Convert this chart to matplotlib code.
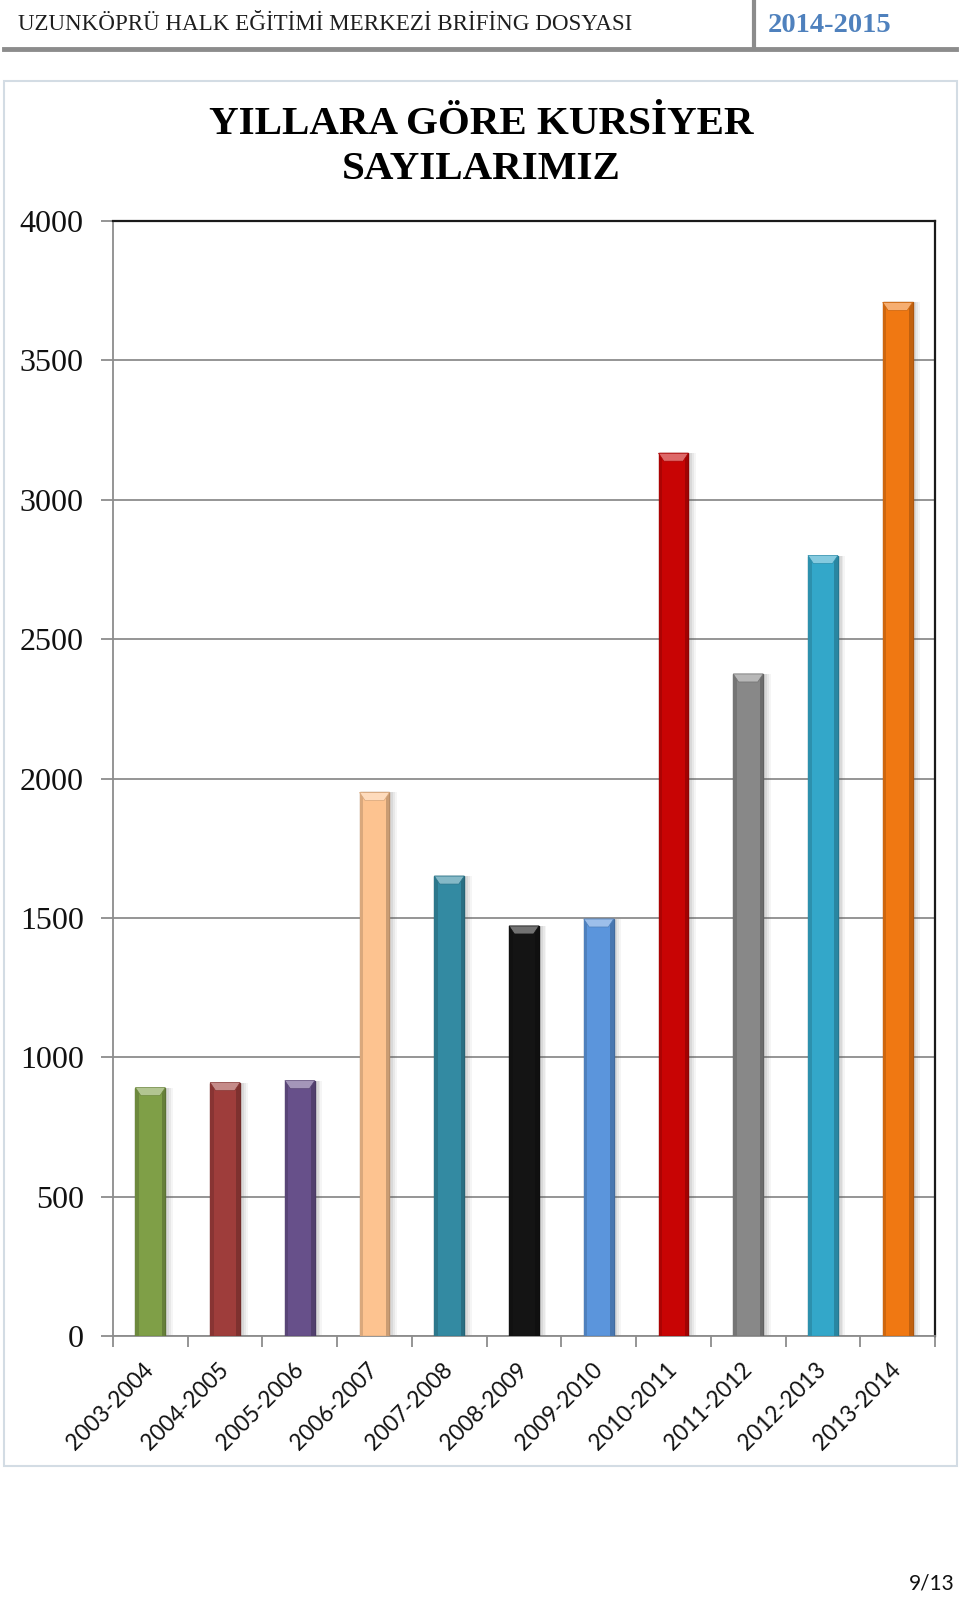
import matplotlib
matplotlib.use("Agg")
import matplotlib.pyplot as plt
import matplotlib.patches as mpatches
from matplotlib.colors import to_rgb
import numpy as np

# ---- data ----
categories = ["2003-2004", "2004-2005", "2005-2006", "2006-2007", "2007-2008",
              "2008-2009", "2009-2010", "2010-2011", "2011-2012", "2012-2013",
              "2013-2014"]
values = [891, 909, 916, 1950, 1650, 1471, 1496, 3167, 2375, 2800, 3708]
bar_colors = ["#7F9F47", "#9E3D3B", "#67508A", "#FDC390", "#338AA2", "#141414",
              "#5B95DC", "#C80404", "#888888", "#33A7C9", "#F07812"]
y_ticks = [0, 500, 1000, 1500, 2000, 2500, 3000, 3500, 4000]
title = "YILLARA GÖRE KURSİYER\nSAYILARIMIZ"
header_left = "UZUNKÖPRÜ HALK EĞİTİMİ MERKEZİ BRİFİNG DOSYASI"
header_right = "2014-2015"
page_no = "9/13"

W, H = 960, 1604
fig = plt.figure(figsize=(W / 100, H / 100), dpi=100)
fig.patch.set_facecolor("white")

def fx(px):
    return px / W

def fy(py):
    return 1 - py / H

# ---- page header ----
fig.text(fx(18), fy(25), header_left, fontsize=16.6, family="Liberation Serif",
         color="#1e1e1e", ha="left", va="center")
fig.text(fx(768), fy(25), header_right, fontsize=20.5, family="Liberation Serif",
         weight="bold", color="#4F81BD", ha="left", va="center")
fig.add_artist(plt.Line2D([fx(754), fx(754)], [fy(2), fy(46)], color="#8C8C8C",
                          lw=3, transform=fig.transFigure))
fig.add_artist(plt.Line2D([fx(4), fx(956)], [fy(48.5), fy(48.5)], color="#8C8C8C",
                          lw=3.5, transform=fig.transFigure))

# ---- chart frame ----
fig.add_artist(mpatches.Rectangle((fx(4), fy(1466)), fx(953), (1466 - 81) / H,
                                  transform=fig.transFigure, facecolor="none",
                                  edgecolor="#D3DCE4", lw=1.5))

fig.text(fx(481), fy(147), title, fontsize=29.5, family="Liberation Serif",
         weight="bold", ha="center", va="center", linespacing=1.3)

fig.text(fx(955), fy(1583), page_no, fontsize=15, family="Lato",
         color="#111111", ha="right", va="center")

# ---- axes ----
ax = fig.add_axes([fx(113), fy(1336), (935 - 113) / W, (1336 - 221) / H])
x = np.arange(len(categories))
bw = 0.40

ax.set_xlim(-0.5, len(categories) - 0.5)
ax.set_ylim(0, 4000)

# shadows
for dx, a in [(0.10, 0.06), (0.075, 0.08), (0.05, 0.10)]:
    ax.bar(x + dx, values, width=bw, color="#555555", alpha=a, zorder=2,
           linewidth=0)

def darker(c, f=0.72):
    r, g, b = to_rgb(c)
    return (r * f, g * f, b * f)

def lighter(c, f=0.45):
    r, g, b = to_rgb(c)
    return (r + (1 - r) * f, g + (1 - g) * f, b + (1 - b) * f)

ax.bar(x, values, width=bw, color=bar_colors,
       edgecolor=[darker(c) for c in bar_colors], linewidth=1.0, zorder=3)

# side shading & bevel top
px_per_unit_y = (1336 - 221) / 4000.0
bevel = 8 / px_per_unit_y
inset = bw * 0.18
for xi, v, c in zip(x, values, bar_colors):
    ax.add_patch(mpatches.Rectangle((xi - bw / 2, 0), bw * 0.12, v,
                                    facecolor=darker(c, 0.86), lw=0, zorder=3.5))
    ax.add_patch(mpatches.Rectangle((xi + bw / 2 - bw * 0.12, 0), bw * 0.12, v,
                                    facecolor=darker(c, 0.80), lw=0, zorder=3.5))
    poly = [(xi - bw / 2, v), (xi + bw / 2, v),
            (xi + bw / 2 - inset, v - bevel), (xi - bw / 2 + inset, v - bevel)]
    ax.add_patch(mpatches.Polygon(poly, closed=True, facecolor=lighter(c, 0.4),
                                  edgecolor=darker(c, 0.85), lw=0.5, zorder=4))

# grid
ax.set_yticks(y_ticks)
ax.yaxis.grid(True, color="#8C8C8C", lw=1.3, zorder=1)
ax.set_axisbelow(True)
ax.set_yticklabels([str(t) for t in y_ticks], family="Liberation Serif",
                   fontsize=23, color="#111111")
ax.tick_params(axis="y", length=9, width=1.3, color="#8C8C8C", pad=12)

ax.set_xticks(x)
ax.set_xticklabels(categories, rotation=45, rotation_mode="anchor", ha="right",
                   va="center", family="Lato", fontsize=16.3, color="#111111")
ax.tick_params(axis="x", which="major", length=0, pad=22)
ax.set_xticks(np.arange(len(categories) + 1) - 0.5, minor=True)
ax.tick_params(axis="x", which="minor", length=8, width=1.3, color="#8C8C8C",
               direction="out")

for s in ["left", "bottom"]:
    ax.spines[s].set_color("#8C8C8C")
    ax.spines[s].set_linewidth(1.3)
for s in ["top", "right"]:
    ax.spines[s].set_color("#1a1a1a")
    ax.spines[s].set_linewidth(1.6)

fig.savefig("out.png", dpi=100, facecolor="white")
